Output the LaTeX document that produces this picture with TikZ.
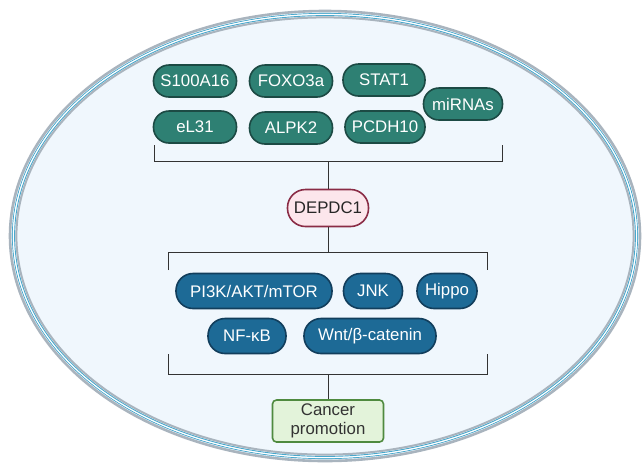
\documentclass[tikz,border=0pt]{standalone}
\usepackage{fontspec}
\setmainfont{Liberation Sans}
\begin{document}
\begin{tikzpicture}[x=1pt,y=-1pt,
  pill/.style={draw, line width=1.6pt, rounded corners=15.5pt, minimum height=32pt, inner sep=0pt, text=white, font=\fontsize{16.8}{19}\selectfont},
  tealpill/.style={pill, fill=tealfill, draw=tealborder},
  bluepill/.style={pill, fill=bluefill, draw=blueborder, minimum height=35pt, rounded corners=17pt},
  brk/.style={draw=black!80, line width=1pt},
]
\definecolor{tealfill}{HTML}{2E8073}
\definecolor{tealborder}{HTML}{1C4A44}
\definecolor{bluefill}{HTML}{1D6A96}
\definecolor{blueborder}{HTML}{123E5C}
\definecolor{cellfill}{HTML}{F0F7FD}
\definecolor{memgray}{HTML}{A9B4BE}
\definecolor{memblue}{HTML}{4AA8CC}
\definecolor{pinkfill}{HTML}{FCE6EC}
\definecolor{pinkborder}{HTML}{8A2C46}
\definecolor{greenfill}{HTML}{E3F3DA}
\definecolor{greenborder}{HTML}{4F8A3F}
\useasboundingbox (0,0) rectangle (642,475);
\fill[white] (0,0) rectangle (642,475);
% cell
\fill[cellfill] (325,236) ellipse [x radius=316pt, y radius=226pt];
\draw[memgray, line width=2.6pt] (325,236) ellipse [x radius=315pt, y radius=225pt];
\draw[memblue, line width=0.9pt] (325,236) ellipse [x radius=312.6pt, y radius=222.6pt];
\draw[white, line width=1.2pt] (325,236) ellipse [x radius=311.5pt, y radius=221.5pt];
\draw[memblue, line width=0.9pt] (325,236) ellipse [x radius=310.4pt, y radius=220.4pt];
\draw[memgray, line width=2pt] (325,236) ellipse [x radius=308.6pt, y radius=218.6pt];
% top nodes
\node[tealpill, minimum width=83pt] (s100) at (195,81) {S100A16};
\node[tealpill, minimum width=83pt] (foxo) at (291,81) {FOXO3a};
\node[tealpill, minimum width=82pt] (stat) at (384,80) {STAT1};
\node[tealpill, minimum width=79pt] (mirna) at (463,104) {miRNAs};
\node[tealpill, minimum width=83pt] (el31) at (195,127) {eL31};
\node[tealpill, minimum width=83pt] (alpk) at (291,128) {ALPK2};
\node[tealpill, minimum width=80pt] (pcdh) at (385,127) {PCDH10};
% DEPDC1
\node[draw=pinkborder, fill=pinkfill, line width=1.6pt, rounded corners=18pt, minimum width=81pt, minimum height=37pt, inner sep=0pt, font=\fontsize{16.8}{19}\selectfont, text=black!85] (dep) at (328,208) {DEPDC1};
% top bracket
\coordinate (tl) at (154,145);
\coordinate (tr) at (502,145);
\coordinate (tm) at (328,161);
\draw[brk] (tl) |- (tr |- tm) -- (tr);
\draw[brk] (tm) -- (dep.north);
% middle bracket
\coordinate (ml) at (168,270);
\coordinate (mr) at (487,270);
\coordinate (mm) at (328,252);
\draw[brk] (ml) |- (mr |- mm) -- (mr);
\draw[brk] (dep.south) -- (mm);
% blue nodes
\node[bluepill, minimum width=156pt] (pi3k) at (254,291) {PI3K/AKT/mTOR};
\node[bluepill, minimum width=59pt] (jnk) at (373,291) {JNK};
\node[bluepill, minimum width=60pt] (hippo) at (447,291) {Hippo};
\node[bluepill, minimum width=78pt] (nfkb) at (247,336) {NF-κB};
\node[bluepill, minimum width=132pt] (wnt) at (370,336) {Wnt/β-catenin};
% bottom bracket
\coordinate (bl) at (168,354);
\coordinate (br) at (487,354);
\coordinate (bm) at (328,374);
\draw[brk] (bl) |- (br |- bm) -- (br);
% cancer
\node[draw=greenborder, fill=greenfill, line width=1.6pt, rounded corners=4pt, minimum width=111pt, minimum height=42pt, inner sep=0pt, align=center, text=black!80, font=\fontsize{16.8}{19.5}\selectfont] (cancer) at (328,421) {Cancer\\promotion};
\draw[brk] (bm) -- (cancer.north);
\end{tikzpicture}
\end{document}
